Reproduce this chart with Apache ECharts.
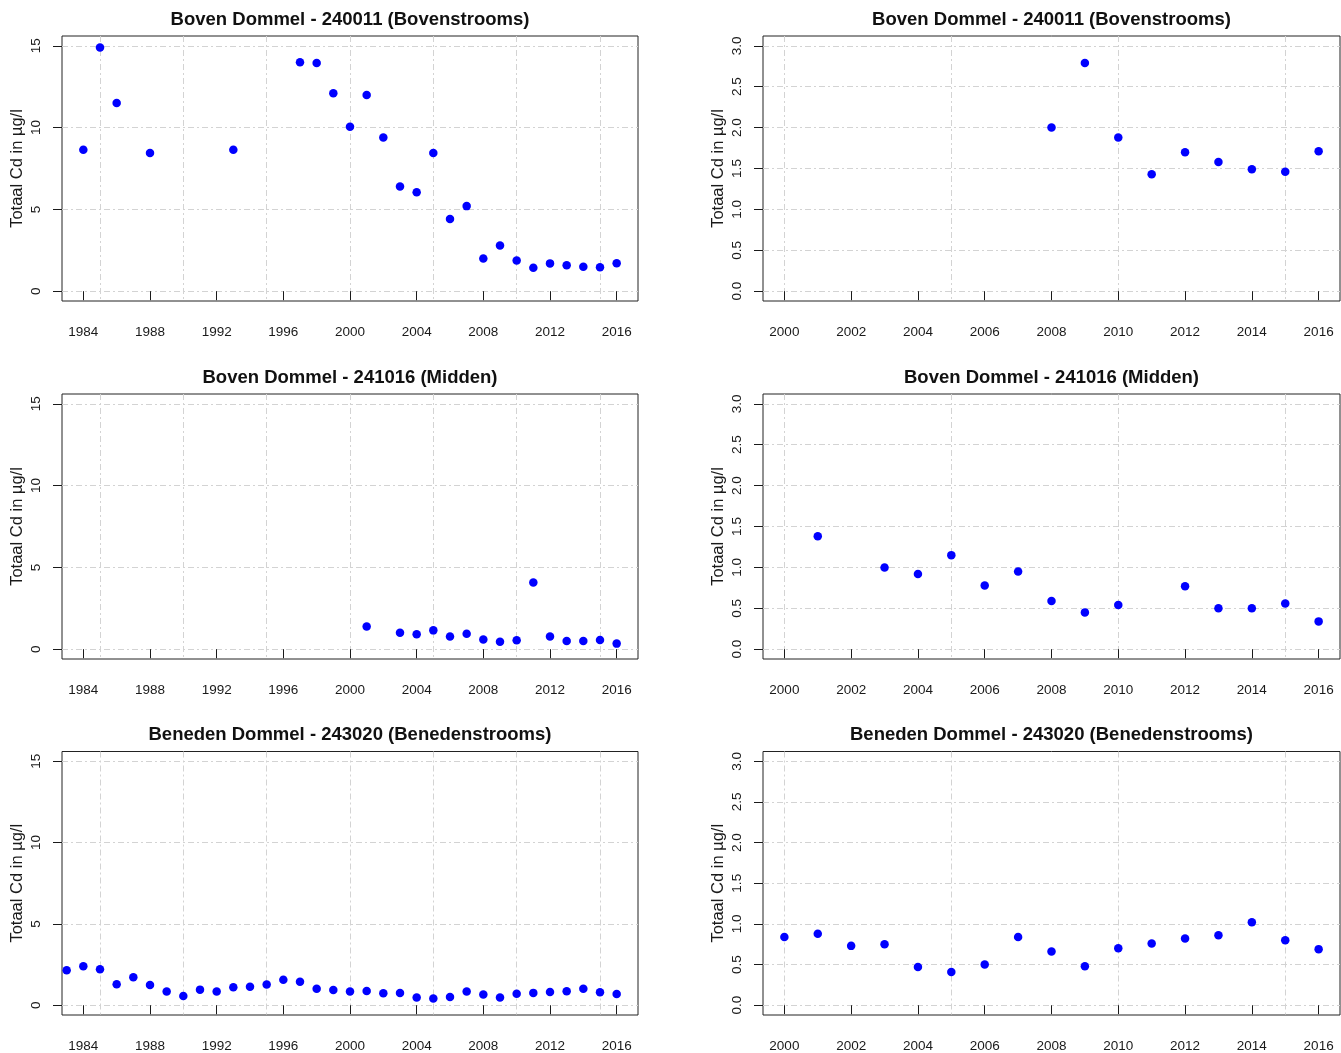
<!DOCTYPE html>
<html>
<head>
<meta charset="utf-8">
<script src="https://cdn.jsdelivr.net/npm/echarts@6/dist/echarts.min.js"></script>
<style>
  html, body { margin: 0; padding: 0; background: #fff; }
  #chart { width: 1341px; height: 1053px; }
</style>
</head>
<body>
<div id="chart"></div>
<script>
const titles = [
  'Boven Dommel - 240011 (Bovenstrooms)',
  'Boven Dommel - 241016 (Midden)',
  'Beneden Dommel - 243020 (Benedenstrooms)'
]
const yName = 'Totaal Cd in µg/l'

// meetpunt 240011
const years240011 = [1984, 1985, 1986, 1988, 1993, 1997, 1998, 1999, 2000, 2001, 2002, 2003, 2004,
  2005, 2006, 2007, 2008, 2009, 2010, 2011, 2012, 2013, 2014, 2015, 2016]
const cd240011 = [8.65, 14.9, 11.5, 8.45, 8.65, 14.0, 13.95, 12.1, 10.05, 12.0, 9.4, 6.4, 6.05,
  8.45, 4.42, 5.2, 2.0, 2.79, 1.88, 1.43, 1.70, 1.58, 1.49, 1.46, 1.71]

// meetpunt 241016
const years241016 = [2001, 2003, 2004, 2005, 2006, 2007, 2008, 2009, 2010, 2011, 2012, 2013, 2014, 2015, 2016]
const cd241016 = [1.38, 1.0, 0.92, 1.15, 0.78, 0.95, 0.59, 0.45, 0.54, 4.07, 0.77, 0.50, 0.50, 0.56, 0.34]

// meetpunt 243020
const years243020 = [1983, 1984, 1985, 1986, 1987, 1988, 1989, 1990, 1991, 1992, 1993, 1994, 1995,
  1996, 1997, 1998, 1999, 2000, 2001, 2002, 2003, 2004, 2005, 2006, 2007, 2008, 2009, 2010, 2011,
  2012, 2013, 2014, 2015, 2016]
const cd243020 = [2.15, 2.39, 2.21, 1.29, 1.72, 1.25, 0.84, 0.57, 0.96, 0.84, 1.10, 1.14, 1.27,
  1.57, 1.45, 1.02, 0.94, 0.84, 0.88, 0.73, 0.75, 0.47, 0.41, 0.50, 0.84, 0.66, 0.48, 0.70, 0.76,
  0.82, 0.86, 1.02, 0.80, 0.69]

// axes
const longYearRange = [1984, 2016]
const longYearTicks = [1984, 1988, 1992, 1996, 2000, 2004, 2008, 2012, 2016]
const longYearGrid = [1985, 1990, 1995, 2000, 2005, 2010, 2015]
const shortYearRange = [2000, 2016]
const shortYearTicks = [2000, 2002, 2004, 2006, 2008, 2010, 2012, 2014, 2016]
const shortYearGrid = [2000, 2005, 2010, 2015]
const longCdRange = [0, 15]
const longCdTicks = [0, 5, 10, 15]
const shortCdRange = [0, 3]
const shortCdTicks = [0, 0.5, 1, 1.5, 2, 2.5, 3]

const stations = [
  [years240011, cd240011],
  [years241016, cd241016],
  [years243020, cd243020]
]

const rowTops = [36, 394, 751.5]
const rowHeight = 265
const cols = [
  { left: 62, width: 576, xr: longYearRange, xt: longYearTicks, xg: longYearGrid, yr: longCdRange, yt: longCdTicks, dec: 0 },
  { left: 763, width: 577, xr: shortYearRange, xt: shortYearTicks, xg: shortYearGrid, yr: shortCdRange, yt: shortCdTicks, dec: 1 }
]

// R-style 4% padding round the limits
const pad = (r) => {
  const d = (r[1] - r[0]) * 0.04
  return [r[0] - d, r[1] + d]
}

const font = "'Liberation Sans', Arial, sans-serif"
const ink = '#1a1a1a'
const gridLine = {
  show: true,
  lineStyle: { color: '#d3d3d3', width: 1, type: [6, 3, 2, 3] }
}

const grid = []
const xAxis = []
const yAxis = []
const series = []
const title = []

stations.forEach(([years, values], row) => {
  cols.forEach((c, col) => {
    const i = grid.length
    const xr = pad(c.xr)
    const yr = pad(c.yr)

    grid.push({
      left: c.left,
      top: rowTops[row],
      width: c.width,
      height: rowHeight,
      show: true,
      borderColor: '#222',
      borderWidth: 1,
      backgroundColor: 'transparent'
    })

    title.push({
      text: titles[row],
      left: c.left + c.width / 2,
      top: rowTops[row] - 26,
      textAlign: 'center',
      padding: 0,
      textStyle: { fontFamily: font, fontSize: 18.5, fontWeight: 'bold', color: '#111' }
    })

    // ticks + labels
    xAxis.push({
      gridIndex: i,
      type: 'value',
      min: xr[0],
      max: xr[1],
      axisLine: { show: false },
      axisTick: { show: true, length: 9, customValues: c.xt, lineStyle: { color: ink } },
      axisLabel: {
        customValues: c.xt,
        margin: 24,
        color: ink,
        fontSize: 13.5,
        fontFamily: font,
        formatter: (v) => String(v)
      },
      splitLine: { show: false }
    })
    // vertical grid lines
    xAxis.push({
      gridIndex: i,
      type: 'value',
      min: xr[0],
      max: xr[1],
      axisLine: { show: false },
      axisTick: { show: false, customValues: c.xg },
      axisLabel: { show: false, customValues: c.xg },
      splitLine: gridLine
    })

    yAxis.push({
      gridIndex: i,
      type: 'value',
      min: yr[0],
      max: yr[1],
      name: yName,
      nameLocation: 'middle',
      nameRotate: 90,
      nameGap: 36,
      nameTextStyle: { fontFamily: font, fontSize: 16.5, color: ink },
      axisLine: { show: false },
      axisTick: { show: true, length: 9, customValues: c.yt, lineStyle: { color: ink } },
      axisLabel: {
        customValues: c.yt,
        rotate: 90,
        margin: 19,
        color: ink,
        fontSize: 13.5,
        fontFamily: font,
        formatter: (v) => v.toFixed(c.dec)
      },
      splitLine: gridLine
    })

    series.push({
      type: 'scatter',
      xAxisIndex: 2 * i,
      yAxisIndex: i,
      clip: true,
      symbol: 'circle',
      symbolSize: 8.5,
      itemStyle: { color: '#0000ff', opacity: 1 },
      data: years.map((y, k) => [y, values[k]])
    })
  })
})

const chart = echarts.init(document.getElementById('chart'))
chart.setOption({
  animation: false,
  backgroundColor: '#fff',
  title,
  grid,
  xAxis,
  yAxis,
  series
})
window.addEventListener('resize', () => chart.resize())
</script>
</body>
</html>
